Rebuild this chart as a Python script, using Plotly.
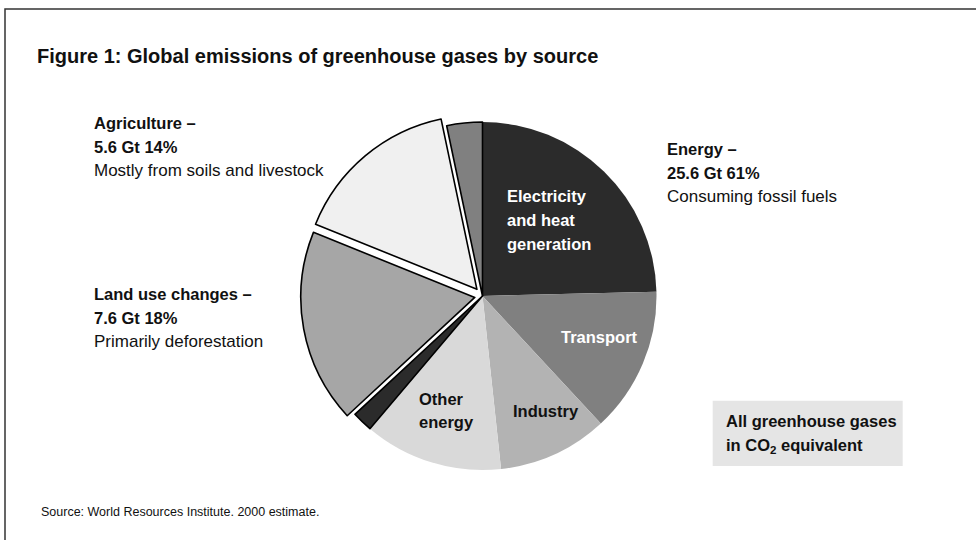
import plotly.graph_objects as go

# ---- data ----
slice_names = ["Electricity and heat generation", "Transport", "Industry", "Other energy",
               "Waste", "Land use changes", "Agriculture", "Industrial processes"]
slice_values = [24.6, 13.5, 10.2, 12.9, 1.9, 18.0, 15.6, 3.3]
slice_colors = ["#2b2b2b", "#808080", "#b3b3b3", "#d9d9d9",
                "#2b2b2b", "#a6a6a6", "#f0f0f0", "#808080"]
slice_pull = [0, 0, 0, 0, 0, 0.045, 0.05, 0]
slice_line_w = [0, 0, 0, 0, 1.6, 1.6, 1.6, 1.6]

title_text = "Figure 1: Global emissions of greenhouse gases by source"
source_text = "Source: World Resources Institute. 2000 estimate."

W, H = 976, 540
FONT = "Liberation Sans, Arial, sans-serif"


def px(x):
    return x / W


def py(y):
    return 1 - y / H


fig = go.Figure()

cx, cy, r = 482.5, 296, 174
S = r * (2 + 2 * max(slice_pull))
fig.add_trace(go.Pie(
    labels=slice_names, values=slice_values, sort=False, direction="clockwise",
    rotation=0, pull=slice_pull, textinfo="none", hoverinfo="label+percent",
    marker=dict(colors=slice_colors, line=dict(color="#000000", width=slice_line_w)),
    domain=dict(x=[px(cx - S / 2), px(cx + S / 2)], y=[py(cy + S / 2), py(cy - S / 2)]),
    showlegend=False,
))

shapes = [
    dict(type="rect", xref="paper", yref="paper", x0=px(5), x1=px(W + 10), y0=py(H + 10), y1=py(9),
         line=dict(color="#333333", width=1.5), fillcolor="rgba(0,0,0,0)", layer="below"),
    dict(type="rect", xref="paper", yref="paper", x0=px(712.7), x1=px(902.7), y0=py(466), y1=py(400.7),
         line=dict(width=0), fillcolor="#e5e5e5", layer="below"),
]

BOLD = 16.5
REG = 17
ann = []


def line(text, x, baseline, size, color="#111111"):
    ann.append(dict(text=text, x=px(x), y=py(baseline - 1.03 * size - 2), xref="paper", yref="paper",
                    xanchor="left", yanchor="top", showarrow=False, align="left",
                    font=dict(family=FONT, size=size, color=color)))


def block(lines, x, first_baseline, color="#111111", step=24):
    for i, (t, bold) in enumerate(lines):
        line("<b>%s</b>" % t if bold else t, x, first_baseline + i * step,
             BOLD if bold else REG, color)


line("<b>" + title_text + "</b>", 35, 66, 20)
block([("Energy –", True), ("25.6 Gt 61%", True), ("Consuming fossil fuels", False)], 665, 157)
block([("Agriculture –", True), ("5.6 Gt 14%", True), ("Mostly from soils and livestock", False)], 92, 131)
block([("Land use changes –", True), ("7.6 Gt 18%", True), ("Primarily deforestation", False)], 92, 302)
block([("All greenhouse gases", True), ("in CO<sub>2</sub> equivalent", True)], 724, 429)
block([("Electricity", True), ("and heat", True), ("generation", True)], 505, 204, color="#ffffff")
block([("Transport", True)], 559, 345, color="#ffffff")
block([("Industry", True)], 511, 419)
block([("Other", True), ("energy", True)], 417, 407, step=23)
line(source_text, 39, 518, 12.5)

fig.update_layout(
    width=W, height=H, margin=dict(l=0, r=0, t=0, b=0),
    paper_bgcolor="#ffffff", plot_bgcolor="#ffffff",
    shapes=shapes, annotations=ann,
    font=dict(family=FONT),
)

fig.write_html("out.html")
